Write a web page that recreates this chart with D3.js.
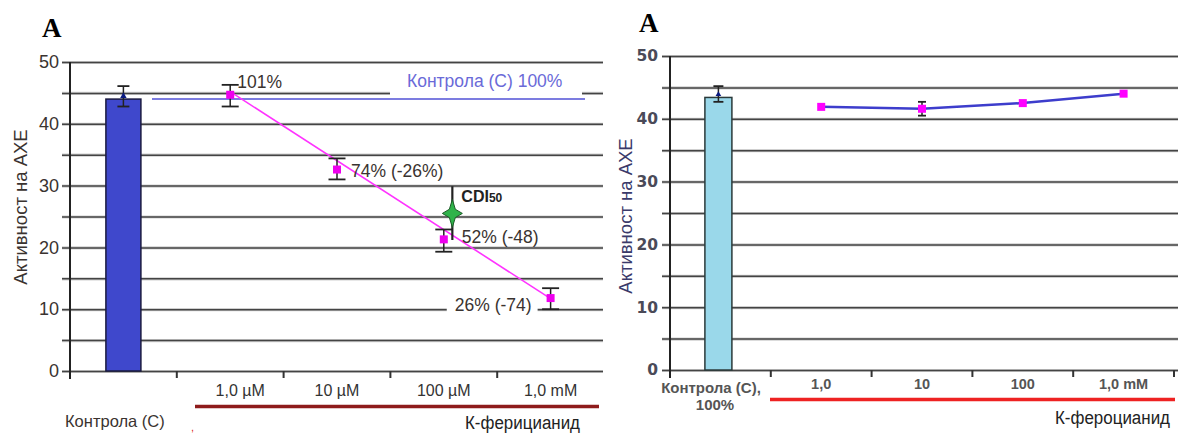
<!DOCTYPE html>
<html>
<head>
<meta charset="utf-8">
<script src="https://cdn.jsdelivr.net/npm/d3@7"></script>
<style>
  body { margin: 0; background: #fff; }
  text { font-family: "Liberation Sans", Arial, sans-serif; }
</style>
</head>
<body>
<div id="chart"></div>
<script>
// Data

// left panel: K-ferricyanide
var leftCats = ["Контрола (С)", "1,0 µM", "10 µM", "100 µM", "1,0 mM"];
var leftControl = 44.0;
var leftControlErr = [42.8, 46.1];
var leftMeans = [44.7, 32.6, 21.3, 11.8];
var leftLow = [42.8, 31.0, 19.3, 10.0];
var leftHigh = [46.3, 34.4, 22.9, 13.4];
var leftLabels = ["101%", "74% (-26%)", "52% (-48)", "26% (-74)"];
var leftTrend = [45.2, 11.7];
var cdi50 = 25.5;
var cdiRange = [21.2, 29.9];

// right panel: K-ferrocyanide
var rightCats = ["Контрола (С),", "1,0", "10", "100", "1,0 mM"];
var rightControl = 43.4;
var rightControlErr = [42.7, 45.2];
var rightMeans = [41.9, 41.6, 42.5, 44.0];
var rightErrIndex = 1;
var rightErr = [40.5, 42.7];

var yTicks = [0, 5, 10, 15, 20, 25, 30, 35, 40, 45, 50];

var svgWidth = 1180;
var svgHeight = 435;

var svg = d3.select("#chart")
    .append("svg")
    .attr("width", svgWidth)
    .attr("height", svgHeight);

// 4-point star used for CDI50
function starPath(rx, ry) {
    var pts = [];
    for (var i = 0; i < 8; i++) {
        var a = i * Math.PI / 4;
        var r = (i % 2 === 0) ? 1 : 0.42;
        pts.push([Math.sin(a) * rx * r, -Math.cos(a) * ry * r]);
    }
    return d3.line().curve(d3.curveLinearClosed)(pts);
}

function drawGrid(g, y, x0, x1, yTop, yBottom) {
    var axis = d3.axisLeft(y)
        .tickValues(yTicks)
        .tickSize(0)
        .tickFormat("");
    var ax = g.append("g")
        .attr("transform", `translate(${x0},0)`)
        .call(axis);
    ax.select(".domain").remove();
    ax.selectAll(".tick line")
        .attr("x1", -8)
        .attr("x2", x1 - x0)
        .attr("stroke", "#cfcfcf")
        .attr("stroke-width", 3.2);
    ax.selectAll(".tick").append("line")
        .attr("x1", -8)
        .attr("x2", x1 - x0)
        .attr("stroke", "#444")
        .attr("stroke-width", 1.5);

    g.append("line")
        .attr("x1", x0).attr("x2", x0)
        .attr("y1", yTop).attr("y2", yBottom + 8)
        .attr("stroke", "#222")
        .attr("stroke-width", 2);
}

function errorBar(g, x, lo, hi, y, w) {
    g.append("line")
        .attr("x1", x).attr("x2", x)
        .attr("y1", y(hi)).attr("y2", y(lo))
        .attr("stroke", "#222").attr("stroke-width", 1.5);
    [lo, hi].forEach(function (v) {
        g.append("line")
            .attr("x1", x - w / 2).attr("x2", x + w / 2)
            .attr("y1", y(v)).attr("y2", y(v))
            .attr("stroke", "#222").attr("stroke-width", 1.8);
    });
}

// ---------------- LEFT PANEL ----------------

var xL = d3.scaleBand().domain(leftCats).range([70, 604]);
var yL = d3.scaleLinear().domain([0, 50]).range([371, 62]);
var gL = svg.append("g");

drawGrid(gL, yL, 70, 603, 62, 371);

// y tick labels
var leftAxis = gL.append("g")
    .attr("transform", "translate(62,0)")
    .call(d3.axisLeft(yL).tickValues([0, 10, 20, 30, 40, 50]).tickSize(0).tickPadding(3));
leftAxis.select(".domain").remove();
leftAxis.selectAll("text")
    .attr("font-size", "18px")
    .attr("fill", "#3a3330")
    .style("font-family", "'Liberation Sans', Arial, sans-serif");

// x ticks at category boundaries
leftCats.slice(1).forEach(function (c) {
    gL.append("line")
        .attr("x1", xL(c)).attr("x2", xL(c))
        .attr("y1", 371).attr("y2", 378)
        .attr("stroke", "#333").attr("stroke-width", 2);
});

// x labels
var bottomL = gL.append("g")
    .attr("transform", "translate(0,385)")
    .call(d3.axisBottom(xL).tickValues(leftCats.slice(1)).tickSize(0).tickPadding(0));
bottomL.select(".domain").remove();
bottomL.selectAll("text")
    .attr("font-size", "16px")
    .attr("fill", "#333")
    .style("font-family", "'Liberation Sans', Arial, sans-serif");
bottomL.selectAll("text").filter(function (d) { return d === leftCats[1]; })
    .attr("dx", 10);

gL.append("text")
    .attr("x", 65).attr("y", 427)
    .attr("font-size", "16.5px").attr("fill", "#3a3330")
    .text(leftCats[0]);

gL.append("line")
    .attr("x1", 195).attr("x2", 599)
    .attr("y1", 406.5).attr("y2", 406.5)
    .attr("stroke", "#8e1c1c").attr("stroke-width", 3.5);

gL.append("text")
    .attr("x", 191).attr("y", 431)
    .attr("font-size", "11px").attr("fill", "#d22")
    .text(",");

gL.append("text")
    .attr("x", 465).attr("y", 429)
    .attr("textLength", 115).attr("lengthAdjust", "spacingAndGlyphs")
    .attr("font-size", "18px").attr("fill", "#222")
    .style("font-family", "'Liberation Sans Narrow', 'Arial Narrow', sans-serif")
    .text("К-ферицианид");

// y title
gL.append("text")
    .attr("transform", "translate(27,207) rotate(-90)")
    .attr("text-anchor", "middle")
    .attr("font-size", "18.5px").attr("fill", "#3a3330")
    .text("Активност на АХЕ");

gL.append("text")
    .attr("x", 42).attr("y", 37)
    .attr("font-size", "27px").attr("font-weight", "bold")
    .style("font-family", "'Liberation Serif', 'Times New Roman', serif")
    .text("A");

// control bar
var barW = 35;
var cxL = xL(leftCats[0]) + xL.bandwidth() / 2;
gL.append("rect")
    .attr("x", cxL - barW / 2)
    .attr("y", yL(leftControl))
    .attr("width", barW)
    .attr("height", yL(0) - yL(leftControl))
    .attr("fill", "#3f48cc")
    .attr("stroke", "#1a1a40").attr("stroke-width", 1.5);
errorBar(gL, cxL, leftControlErr[0], leftControlErr[1], yL, 12);
gL.append("path")
    .attr("d", d3.symbol(d3.symbolTriangle, 18)())
    .attr("transform", `translate(${cxL},${yL(leftControl) - 3})`)
    .attr("fill", "#0a1a80");

// control reference line and label (white gap in the 45 grid line)
gL.append("rect")
    .attr("x", 390).attr("y", yL(45) - 3)
    .attr("width", 582 - 390).attr("height", 6)
    .attr("fill", "#fff");
gL.append("text")
    .attr("x", 407).attr("y", 87)
    .attr("font-size", "17.5px").attr("fill", "#6a6ad8")
    .text("Контрола (С) 100%");
gL.append("line")
    .attr("x1", 152).attr("x2", 585)
    .attr("y1", yL(leftControl)).attr("y2", yL(leftControl))
    .attr("stroke", "#7c7ce0").attr("stroke-width", 2);

// trend line
var pCats = leftCats.slice(1);
gL.append("line")
    .attr("x1", xL(pCats[0]) + xL.bandwidth() / 2)
    .attr("x2", xL(pCats[3]) + xL.bandwidth() / 2)
    .attr("y1", yL(leftTrend[0]))
    .attr("y2", yL(leftTrend[1]))
    .attr("stroke", "#ff33ff").attr("stroke-width", 1.6);

// value labels
var labelPos = [[7, -7, "start"], [14, 7, "start"], [18, 4, "start"], [-19, 13, "end"]];
leftLabels.forEach(function (t, i) {
    var cx = xL(pCats[i]) + xL.bandwidth() / 2;
    var tx = gL.append("text")
        .attr("x", cx + labelPos[i][0])
        .attr("y", yL(leftMeans[i]) + labelPos[i][1])
        .attr("text-anchor", labelPos[i][2])
        .attr("font-size", "17.5px").attr("fill", "#3a3330")
        .text(t);
    if (i === 3) {
        var b = tx.node().getBBox();
        gL.append("rect")
            .attr("x", b.x - 8).attr("y", yL(10) - 3)
            .attr("width", b.width + 14).attr("height", 6)
            .attr("fill", "#fff");
        tx.raise();
    }
});

// error bars and points
leftMeans.forEach(function (v, i) {
    var cx = xL(pCats[i]) + xL.bandwidth() / 2;
    errorBar(gL, cx, leftLow[i], leftHigh[i], yL, 17);
    gL.append("rect")
        .attr("x", cx - 4).attr("y", yL(v) - 4)
        .attr("width", 8).attr("height", 8)
        .attr("fill", "#ee00ee");
});

// CDI50
var cdiX = xL(pCats[2]) + xL.bandwidth() * 0.58;
gL.append("line")
    .attr("x1", cdiX).attr("x2", cdiX)
    .attr("y1", yL(cdiRange[1])).attr("y2", yL(cdiRange[0]))
    .attr("stroke", "#222").attr("stroke-width", 2.2);
gL.append("path")
    .attr("d", starPath(10, 14))
    .attr("transform", `translate(${cdiX},${yL(cdi50)})`)
    .attr("fill", "#2fb34a")
    .attr("stroke", "#1d5a27").attr("stroke-width", 1);
var cdiText = gL.append("text")
    .attr("x", cdiX + 9).attr("y", yL(cdiRange[1]) + 16)
    .attr("font-size", "16px").attr("font-weight", "bold").attr("fill", "#222");
cdiText.append("tspan").text("CDI");
cdiText.append("tspan").attr("font-size", "12px").text("50");

// ---------------- RIGHT PANEL ----------------

var xR = d3.scaleBand().domain(rightCats).range([670, 1174]);
var yR = d3.scaleLinear().domain([0, 50]).range([370, 56]);
var gR = svg.append("g");

drawGrid(gR, yR, 670, 1178, 56, 370);

var rightAxis = gR.append("g")
    .attr("transform", "translate(662,0)")
    .call(d3.axisLeft(yR).tickValues([0, 10, 20, 30, 40, 50]).tickSize(0).tickPadding(4));
rightAxis.select(".domain").remove();
rightAxis.selectAll("text")
    .attr("font-size", "15.5px")
    .attr("font-weight", "bold")
    .attr("fill", "#4a4a58")
    .style("font-family", "'DejaVu Sans', Verdana, sans-serif");

rightCats.slice(1).forEach(function (c) {
    gR.append("line")
        .attr("x1", xR(c)).attr("x2", xR(c))
        .attr("y1", 370).attr("y2", 377)
        .attr("stroke", "#333").attr("stroke-width", 2);
});
gR.append("line")
    .attr("x1", 1174).attr("x2", 1174)
    .attr("y1", 370).attr("y2", 377)
    .attr("stroke", "#333").attr("stroke-width", 2);

var bottomR = gR.append("g")
    .attr("transform", "translate(0,379)")
    .call(d3.axisBottom(xR).tickValues(rightCats.slice(1)).tickSize(0).tickPadding(0));
bottomR.select(".domain").remove();
bottomR.selectAll("text")
    .attr("font-size", "14.5px")
    .attr("font-weight", "bold")
    .attr("fill", "#555")
    .style("font-family", "'Liberation Sans', Arial, sans-serif");

gR.append("text")
    .attr("x", 711).attr("y", 393)
    .attr("text-anchor", "middle")
    .attr("font-size", "15px").attr("font-weight", "bold").attr("fill", "#555")
    .text(rightCats[0]);
gR.append("text")
    .attr("x", 715).attr("y", 410)
    .attr("text-anchor", "middle")
    .attr("font-size", "15px").attr("font-weight", "bold").attr("fill", "#555")
    .text("100%");

gR.append("line")
    .attr("x1", 770).attr("x2", 1175)
    .attr("y1", 399.5).attr("y2", 399.5)
    .attr("stroke", "#ee2222").attr("stroke-width", 3.5);

gR.append("text")
    .attr("x", 1055).attr("y", 424)
    .attr("textLength", 115).attr("lengthAdjust", "spacingAndGlyphs")
    .attr("font-size", "18px").attr("fill", "#222")
    .style("font-family", "'Liberation Sans Narrow', 'Arial Narrow', sans-serif")
    .text("К-фероцианид");

gR.append("text")
    .attr("transform", "translate(632,216) rotate(-90)")
    .attr("text-anchor", "middle")
    .attr("font-size", "18.5px").attr("fill", "#3a3a6a")
    .text("Активност на АХЕ");

gR.append("text")
    .attr("x", 639).attr("y", 32)
    .attr("font-size", "27px").attr("font-weight", "bold")
    .style("font-family", "'Liberation Serif', 'Times New Roman', serif")
    .text("A");

var barWR = 27;
var cxR = xR(rightCats[0]) + xR.bandwidth() / 2 - 2;
gR.append("rect")
    .attr("x", cxR - barWR / 2)
    .attr("y", yR(rightControl))
    .attr("width", barWR)
    .attr("height", yR(0) - yR(rightControl))
    .attr("fill", "#9ad8ea")
    .attr("stroke", "#2a3a3a").attr("stroke-width", 1.5);
errorBar(gR, cxR, rightControlErr[0], rightControlErr[1], yR, 10);
gR.append("path")
    .attr("d", d3.symbol(d3.symbolTriangle, 14)())
    .attr("transform", `translate(${cxR},${yR(rightControl) - 3})`)
    .attr("fill", "#0a1a80");

var rCats = rightCats.slice(1);
var line = d3.line()
    .x(function (d, i) { return xR(rCats[i]) + xR.bandwidth() / 2; })
    .y(function (d) { return yR(d); });
gR.append("path")
    .datum(rightMeans)
    .attr("d", line)
    .attr("fill", "none")
    .attr("stroke", "#3d3dcc").attr("stroke-width", 2.5);

rightMeans.forEach(function (v, i) {
    var cx = xR(rCats[i]) + xR.bandwidth() / 2;
    if (i === rightErrIndex) {
        errorBar(gR, cx, rightErr[0], rightErr[1], yR, 8);
    }
    gR.append("rect")
        .attr("x", cx - 4).attr("y", yR(v) - 4)
        .attr("width", 8).attr("height", 8)
        .attr("fill", "#ff00ff");
});
</script>
</body>
</html>
